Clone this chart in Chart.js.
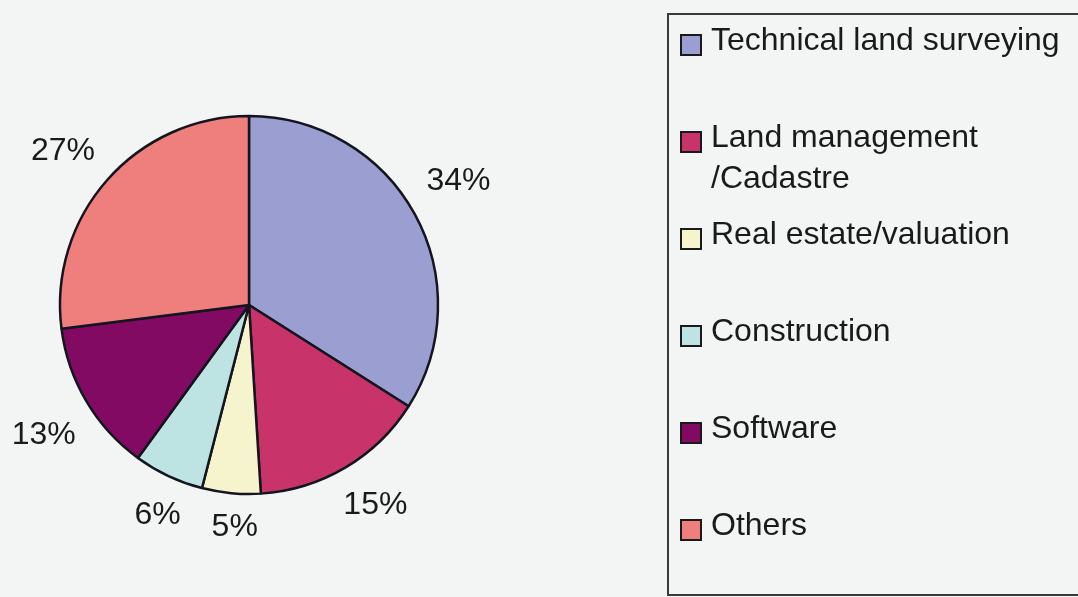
<!DOCTYPE html>
<html>
<head>
<meta charset="utf-8">
<script src="https://cdn.jsdelivr.net/npm/chart.js@4/dist/chart.umd.min.js"></script>
<style>
  html, body { margin: 0; padding: 0; background: #f3f5f5; }
  #wrap { width: 1078px; height: 597px; position: relative; }
</style>
</head>
<body>
<div id="wrap"><canvas id="c" width="1078" height="597"></canvas></div>
<script>
const categories = ["Technical land surveying", "Land management\n/Cadastre", "Real estate/valuation", "Construction", "Software", "Others"];
const values = [34, 15, 5, 6, 13, 27];
const pctLabels = ["34%", "15%", "5%", "6%", "13%", "27%"];
const colors = ["#9a9ed0", "#c8346a", "#f6f4cc", "#bde3e2", "#820a62", "#ef7f7d"];

const FONT = "Liberation Sans, Arial, sans-serif";

const bgPlugin = {
  id: 'bg',
  beforeDraw(chart) {
    const ctx = chart.ctx;
    ctx.save();
    ctx.fillStyle = '#f3f5f5';
    ctx.fillRect(0, 0, chart.width, chart.height);
    ctx.restore();
  }
};

const outsideLabels = {
  id: 'outsideLabels',
  afterDatasetsDraw(chart) {
    const ctx = chart.ctx;
    const meta = chart.getDatasetMeta(0);
    ctx.save();
    ctx.font = "32px " + FONT;
    ctx.fillStyle = '#1a1a1a';
    ctx.textAlign = 'center';
    ctx.textBaseline = 'middle';
    meta.data.forEach((arc, i) => {
      const p = arc.getProps(['x', 'y', 'startAngle', 'endAngle', 'outerRadius'], true);
      const mid = (p.startAngle + p.endAngle) / 2 - 0.03;
      const dx = Math.cos(mid), dy = Math.sin(mid);
      const txt = pctLabels[i];
      const w = ctx.measureText(txt).width;
      const h = 22;
      const d = p.outerRadius + 21 + (w / 2) * Math.abs(dx) + (h / 2) * Math.abs(dy);
      ctx.fillText(txt, p.x + dx * d, p.y + dy * d);
    });
    ctx.restore();
  }
};

const boxLegend = {
  id: 'boxLegend',
  afterDraw(chart) {
    const ctx = chart.ctx;
    ctx.save();
    ctx.strokeStyle = '#3a3a3a';
    ctx.lineWidth = 2;
    ctx.strokeRect(668, 14, 430, 581);
    ctx.font = "32px " + FONT;
    ctx.textAlign = 'left';
    ctx.textBaseline = 'alphabetic';
    const ds = chart.data.datasets[0];
    chart.data.labels.forEach((lab, i) => {
      const cy = 45 + i * 97;
      ctx.fillStyle = ds.backgroundColor[i];
      ctx.fillRect(681, cy - 10, 20, 20);
      ctx.strokeStyle = '#1a1a1a';
      ctx.lineWidth = 2;
      ctx.strokeRect(681, cy - 10, 20, 20);
      ctx.fillStyle = '#1a1a1a';
      lab.split("\n").forEach((line, j) => {
        ctx.fillText(line, 711, cy + 5 + j * 41);
      });
    });
    ctx.restore();
  }
};

new Chart(document.getElementById('c'), {
  type: 'pie',
  data: {
    labels: categories,
    datasets: [{
      data: values,
      backgroundColor: colors,
      borderColor: '#151520',
      borderWidth: 2.5,
      borderAlign: 'center'
    }]
  },
  options: {
    responsive: false,
    animation: false,
    radius: 189,
    layout: { padding: { left: 0, right: 580, top: 13, bottom: 0 } },
    plugins: {
      legend: { display: false },
      tooltip: { enabled: false },
      title: { display: false }
    }
  },
  plugins: [bgPlugin, outsideLabels, boxLegend]
});
</script>
</body>
</html>
